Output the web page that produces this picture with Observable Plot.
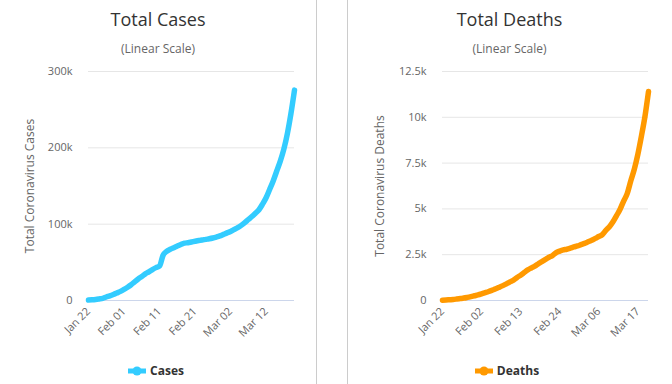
<!DOCTYPE html>
<html><head><meta charset="utf-8">
<script src="https://cdn.jsdelivr.net/npm/d3@7"></script>
<script src="https://cdn.jsdelivr.net/npm/@observablehq/plot@0.6"></script>
<style>
body{margin:0;background:#fff;font-family:"Open Sans",sans-serif;}
#wrap{position:relative;width:672px;height:384px;overflow:hidden;background:#fff;}
.abs{position:absolute;}
.title{font-size:18px;color:#333;text-align:center;white-space:nowrap;line-height:18px;}
.sub{font-size:12px;color:#666;text-align:center;white-space:nowrap;line-height:12px;}
.legend{font-size:12px;font-weight:bold;color:#333;white-space:nowrap;display:flex;align-items:center;justify-content:center;line-height:14px;}
.legend svg{margin-right:4px;}
.vline{position:absolute;top:0;width:1px;height:384px;background:#ccc;}
</style></head>
<body><div id="wrap"></div>
<script>
// Dates: Jan 22 .. Mar 20, 2020 (one point per day)
const startDate = "2020-01-22";
const endDate = "2020-03-20";

const totalCases = [
  580, 845, 1317, 2015, 2800, 4581, 6058, 7813, 9823, 11950,
  14553, 17391, 20630, 24545, 28266, 31439, 34876, 37552, 40553, 43099,
  45134, 59287, 64438, 67100, 69197, 71329, 73332, 75184, 75700, 76677,
  77673, 78651, 79205, 80087, 80828, 81820, 83112, 84615, 86604,
  88585, 90443, 93016, 95314, 98425, 102050, 106099, 109991, 114381, 118948,
  126214, 134576, 145483, 156653, 169593, 182490, 198238, 218822, 244933, 275597
];
const totalDeaths = [
  17, 25, 41, 56, 80, 106, 132, 170, 213, 259,
  304, 362, 426, 492, 565, 638, 724, 813, 910, 1018,
  1115, 1261, 1383, 1526, 1669, 1775, 1873, 2009, 2126, 2247,
  2360, 2460, 2618, 2699, 2763, 2800, 2858, 2923, 2977,
  3050, 3117, 3202, 3285, 3387, 3494, 3599, 3827, 4025, 4296,
  4628, 4981, 5428, 5833, 6520, 7162, 7979, 8968, 10046, 11404
];

const casesTickDates = ["2020-01-22","2020-02-01","2020-02-11","2020-02-21","2020-03-02","2020-03-12"];
const deathsTickDates = ["2020-01-22","2020-02-02","2020-02-13","2020-02-24","2020-03-06","2020-03-17"];
const casesYTicks = [0, 100000, 200000, 300000];
const casesYLabels = ["0", "100k", "200k", "300k"];
const deathsYTicks = [0, 2500, 5000, 7500, 10000, 12500];
const deathsYLabels = ["0", "2.5k", "5k", "7.5k", "10k", "12.5k"];

const casesColor = "#33ccff";
const deathsColor = "#ff9900";

const days = d3.utcDay.range(new Date(startDate), d3.utcDay.offset(new Date(endDate), 1));
const fmtDate = d3.utcFormat("%b %d");

function panel(opt) {
  const data = days.map((d, i) => ({date: d, v: opt.values[i]}));
  const yFmt = d => opt.yLabels[opt.yTicks.indexOf(d)];
  return Plot.plot({
    width: opt.width, height: 340,
    marginTop: 71, marginBottom: 40, marginLeft: opt.marginLeft, marginRight: opt.marginRight,
    style: {fontFamily: "Open Sans", fontSize: "11px", color: "#666", background: "transparent", overflow: "visible"},
    x: {type: "utc", domain: [days[0], days[days.length - 1]]},
    y: {domain: [0, opt.yMax]},
    marks: [
      Plot.gridY(opt.yTicks, {stroke: "#e6e6e6", strokeOpacity: 1}),
      Plot.ruleY([0], {stroke: "#ccd6eb", strokeWidth: 1}),
      Plot.axisY({ticks: opt.yTicks, tickFormat: yFmt, tickSize: 0, tickPadding: 16, label: null, fill: "#666", fontSize: 11}),
      Plot.axisX({ticks: opt.xTicks.map(s => new Date(s)), tickFormat: fmtDate, tickRotate: -45, tickSize: 0, tickPadding: 9, label: null, fill: "#666", fontSize: 11}),
      Plot.text([opt.yTitle], {frameAnchor: "left", textAnchor: "middle", rotate: -90, dx: -opt.titleOffset, fontSize: 12, fill: "#666"}),
      Plot.line(data, {x: "date", y: "v", stroke: opt.color, strokeWidth: 5.5, curve: "monotone-x", strokeLinecap: "round"})
    ]
  });
}

const wrap = document.getElementById("wrap");
function addDiv(cls, text, css) {
  const el = document.createElement("div");
  el.className = "abs " + cls;
  el.textContent = text;
  Object.assign(el.style, css);
  wrap.appendChild(el);
  return el;
}
function addLegend(label, color, left, width) {
  const el = document.createElement("div");
  el.className = "abs legend";
  Object.assign(el.style, {left: left + "px", width: width + "px", top: "364px"});
  el.innerHTML = `<svg width="18" height="10"><line x1="0" y1="5" x2="18" y2="5" stroke="${color}" stroke-width="5"/><circle cx="9" cy="5" r="4.5" fill="${color}"/></svg><span>${label}</span>`;
  wrap.appendChild(el);
}

// Left panel
const p1 = panel({values: totalCases, color: casesColor, yTicks: casesYTicks, yLabels: casesYLabels, yMax: 300000,
  xTicks: casesTickDates, width: 316, marginLeft: 88, marginRight: 22, yTitle: "Total Coronavirus Cases", titleOffset: 58});
p1.style.position = "absolute"; p1.style.left = "0px"; p1.style.top = "0px";
wrap.appendChild(p1);

// Right panel
const p2 = panel({values: totalDeaths, color: deathsColor, yTicks: deathsYTicks, yLabels: deathsYLabels, yMax: 12500,
  xTicks: deathsTickDates, width: 325, marginLeft: 95, marginRight: 24, yTitle: "Total Coronavirus Deaths", titleOffset: 62});
p2.style.position = "absolute"; p2.style.left = "347px"; p2.style.top = "0px";
wrap.appendChild(p2);

addDiv("title", "Total Cases", {left: "0px", width: "316px", top: "10px"});
addDiv("sub", "(Linear Scale)", {left: "0px", width: "316px", top: "43px"});
addDiv("title", "Total Deaths", {left: "347px", width: "325px", top: "10px"});
addDiv("sub", "(Linear Scale)", {left: "347px", width: "325px", top: "43px"});
addLegend("Cases", casesColor, 0, 312);
addLegend("Deaths", deathsColor, 347, 320);

const v1 = document.createElement("div"); v1.className = "vline"; v1.style.left = "316px"; wrap.appendChild(v1);
const v2 = document.createElement("div"); v2.className = "vline"; v2.style.left = "347px"; wrap.appendChild(v2);
</script>
</body></html>
